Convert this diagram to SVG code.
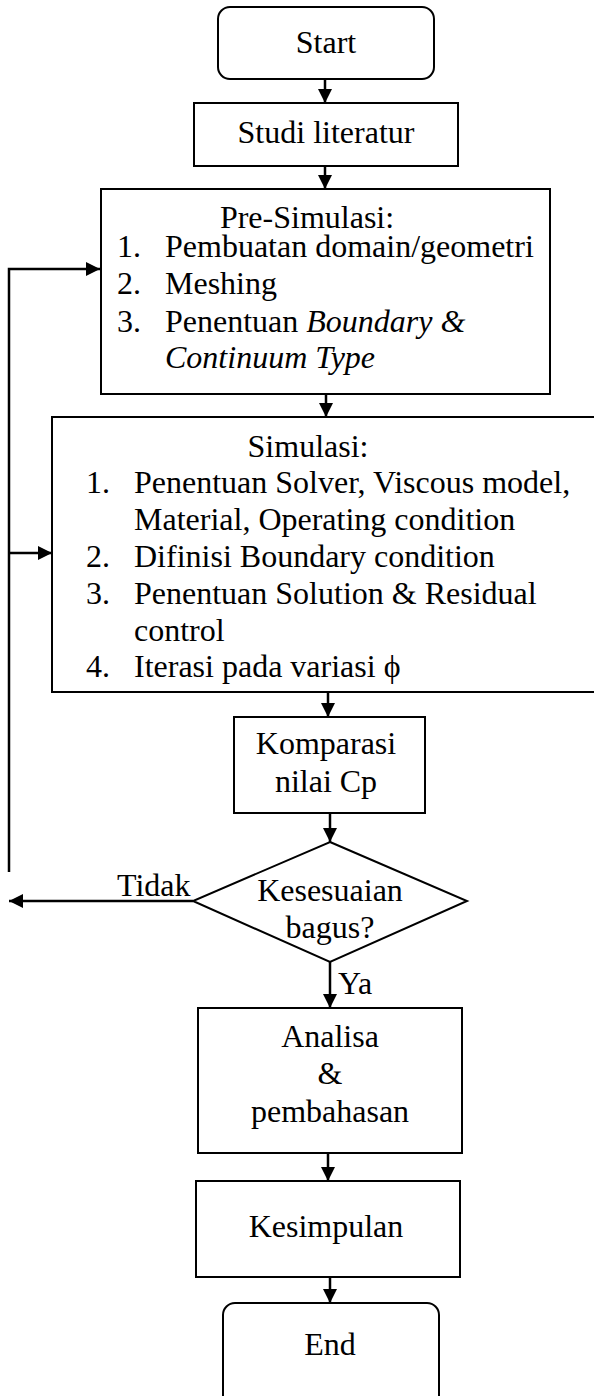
<svg xmlns="http://www.w3.org/2000/svg" width="594" height="1396" viewBox="0 0 594 1396">
<style>
.box{fill:#fff;stroke:#000;stroke-width:2}
.ln{fill:none;stroke:#000;stroke-width:2.5}
.t{font-family:"Liberation Serif","Times New Roman",serif;font-size:32px;fill:#000}
.c{text-anchor:middle}
.i{font-style:italic}
</style>
<defs>
<marker id="ah" markerUnits="userSpaceOnUse" markerWidth="14" markerHeight="14" viewBox="0 0 14 14" refX="14" refY="7" orient="auto">
<path d="M0,0 L14,7 L0,14 z" fill="#000"/>
</marker>
</defs>
<rect width="594" height="1396" fill="#fff"/>
<g id="connectors">
<line class="ln" x1="325" y1="79" x2="325" y2="103" marker-end="url(#ah)"/>
<line class="ln" x1="325" y1="166" x2="325" y2="189" marker-end="url(#ah)"/>
<line class="ln" x1="326" y1="394" x2="326" y2="417" marker-end="url(#ah)"/>
<line class="ln" x1="328" y1="692" x2="328" y2="717" marker-end="url(#ah)"/>
<line class="ln" x1="330" y1="813" x2="330" y2="842" marker-end="url(#ah)"/>
<line class="ln" x1="330" y1="962" x2="330" y2="1008" marker-end="url(#ah)"/>
<line class="ln" x1="328" y1="1153" x2="328" y2="1181" marker-end="url(#ah)"/>
<line class="ln" x1="330" y1="1277" x2="330" y2="1303" marker-end="url(#ah)"/>
<line class="ln" x1="193" y1="901" x2="9" y2="901" marker-end="url(#ah)"/>
<polyline class="ln" points="9,872 9,269 100,269" marker-end="url(#ah)"/>
<line class="ln" x1="9" y1="553" x2="52" y2="553" marker-end="url(#ah)"/>
<text class="t" x="117" y="896">Tidak</text>
<text class="t" x="338" y="994">Ya</text>
</g>
<g id="start">
<rect class="box" x="218" y="7" width="216" height="72" rx="12"/>
<text class="t c" x="326" y="53">Start</text>
</g>
<g id="studi">
<rect class="box" x="194" y="103" width="264" height="63"/>
<text class="t c" x="326" y="143">Studi literatur</text>
</g>
<g id="presim">
<rect class="box" x="101" y="189" width="449" height="205"/>
<text class="t c" x="307" y="228">Pre-Simulasi:</text>
<text class="t" x="117" y="257">1.</text>
<text class="t" x="165" y="257">Pembuatan domain/geometri</text>
<text class="t" x="117" y="294">2.</text>
<text class="t" x="165" y="294">Meshing</text>
<text class="t" x="117" y="332">3.</text>
<text class="t" x="165" y="332">Penentuan <tspan class="i">Boundary &amp;</tspan></text>
<text class="t i" x="165" y="368">Continuum Type</text>
</g>
<g id="simulasi">
<rect class="box" x="52" y="417" width="560" height="275"/>
<text class="t c" x="308" y="457">Simulasi:</text>
<text class="t" x="86" y="493">1.</text>
<text class="t" x="134" y="493">Penentuan Solver, Viscous model,</text>
<text class="t" x="134" y="530">Material, Operating condition</text>
<text class="t" x="86" y="567">2.</text>
<text class="t" x="134" y="567">Difinisi Boundary condition</text>
<text class="t" x="86" y="604">3.</text>
<text class="t" x="134" y="604">Penentuan Solution &amp; Residual</text>
<text class="t" x="134" y="641">control</text>
<text class="t" x="86" y="677">4.</text>
<text class="t" x="134" y="677">Iterasi pada variasi ϕ</text>
</g>
<g id="komparasi">
<rect class="box" x="234" y="717" width="191" height="96"/>
<text class="t c" x="326" y="754">Komparasi</text>
<text class="t c" x="326" y="792">nilai Cp</text>
</g>
<g id="decision">
<polygon class="box" points="330,842 467,901 330,962 193,901"/>
<text class="t c" x="330" y="901">Kesesuaian</text>
<text class="t c" x="330" y="938">bagus?</text>
</g>
<g id="analisa">
<rect class="box" x="198" y="1008" width="264" height="145"/>
<text class="t c" x="330" y="1047">Analisa</text>
<text class="t c" x="330" y="1084">&amp;</text>
<text class="t c" x="330" y="1122">pembahasan</text>
</g>
<g id="kesimpulan">
<rect class="box" x="196" y="1181" width="264" height="96"/>
<text class="t c" x="326" y="1237">Kesimpulan</text>
</g>
<g id="end">
<rect class="box" x="223" y="1303" width="216" height="110" rx="12"/>
<text class="t c" x="330" y="1355">End</text>
</g>
</svg>
